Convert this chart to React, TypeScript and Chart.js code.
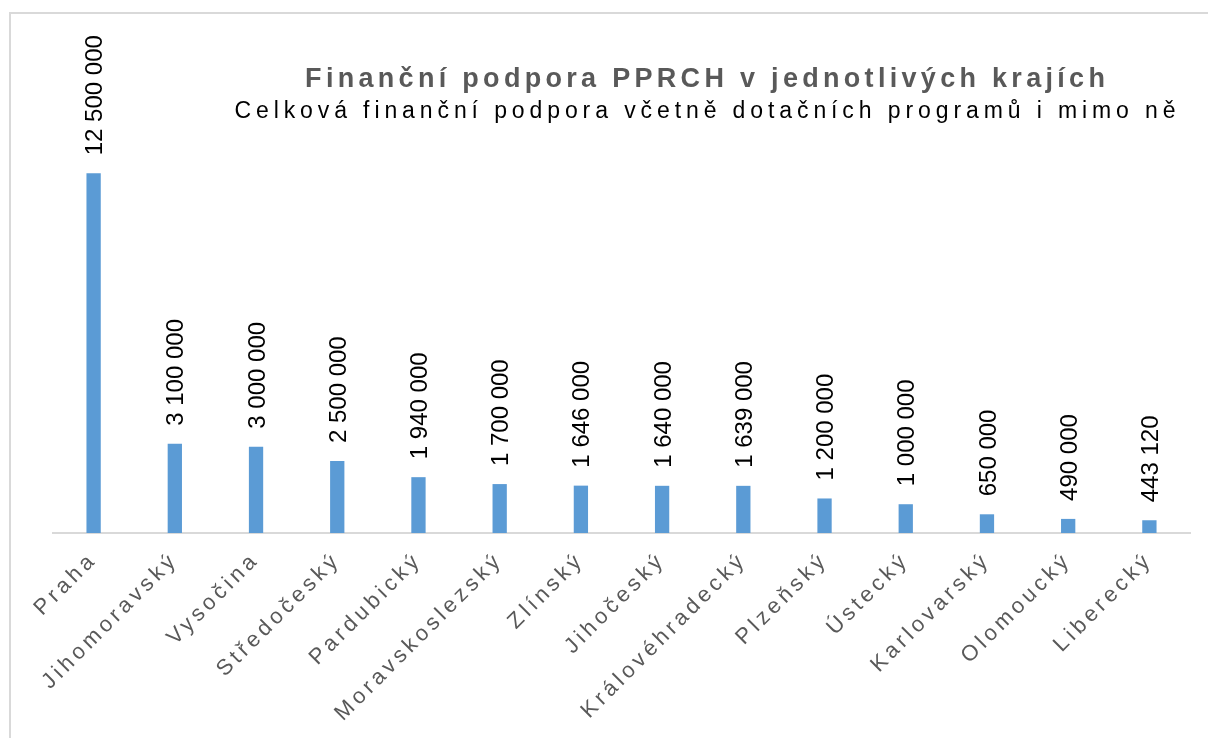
import React, { useEffect, useRef } from "react";
import { Chart, registerables } from "chart.js";

Chart.register(...registerables);

const regions = [
  "Praha",
  "Jihomoravský",
  "Vysočina",
  "Středočeský",
  "Pardubický",
  "Moravskoslezský",
  "Zlínský",
  "Jihočeský",
  "Královéhradecký",
  "Plzeňský",
  "Ústecký",
  "Karlovarský",
  "Olomoucký",
  "Liberecký",
];

const support = [
  12500000, 3100000, 3000000, 2500000, 1940000, 1700000, 1646000, 1640000,
  1639000, 1200000, 1000000, 650000, 490000, 443120,
];

const titleText = "Finanční podpora PPRCH v jednotlivých krajích";
const subtitleText = "Celková finanční podpora včetně dotačních programů i mimo ně";

const FONT = "'Liberation Sans', Arial, sans-serif";

const fmt = (v: number) =>
  String(v).replace(/\B(?=(\d{3})+(?!\d))/g, " ");

const decorPlugin = {
  id: "decor",
  beforeDraw(chart: any) {
    (chart.ctx as any).letterSpacing = "4px";
  },
  afterDatasetsDraw(chart: any) {
    const ctx = chart.ctx;
    const meta = chart.getDatasetMeta(0);
    ctx.save();
    (ctx as any).letterSpacing = "0px";
    ctx.font = `24px ${FONT}`;
    ctx.fillStyle = "#000000";
    ctx.textAlign = "left";
    ctx.textBaseline = "alphabetic";
    meta.data.forEach((bar: any, i: number) => {
      ctx.save();
      ctx.translate(bar.x, bar.y - 18);
      ctx.rotate(-Math.PI / 2);
      ctx.fillText(fmt(support[i]), 0, 8.6);
      ctx.restore();
    });
    ctx.restore();
  },
  afterDraw(chart: any) {
    const ctx = chart.ctx;
    ctx.save();
    ctx.textAlign = "center";
    ctx.textBaseline = "alphabetic";
    (ctx as any).letterSpacing = "4.3px";
    ctx.font = `bold 27px ${FONT}`;
    ctx.fillStyle = "#595959";
    ctx.fillText(titleText, 694 + 2.15, 73);
    (ctx as any).letterSpacing = "4.9px";
    ctx.font = `23px ${FONT}`;
    ctx.fillStyle = "#000000";
    ctx.fillText(subtitleText, 694 + 2.45, 104);
    ctx.restore();
    (ctx as any).letterSpacing = "0px";
  },
};

export default function App() {
  const ref = useRef<HTMLCanvasElement>(null);

  useEffect(() => {
    if (!ref.current) return;
    const chart = new Chart(ref.current, {
      type: "bar",
      data: {
        labels: regions,
        datasets: [
          {
            data: support,
            backgroundColor: "#5b9bd5",
            borderWidth: 0,
            categoryPercentage: 1,
            barPercentage: 0.176,
          },
        ],
      },
      options: {
        animation: false,
        responsive: false,
        maintainAspectRatio: false,
        devicePixelRatio: 1,
        layout: { padding: { left: 42, right: 21, top: 1, bottom: 0 } },
        plugins: {
          legend: { display: false },
          tooltip: { enabled: false },
          title: { display: false },
        },
        scales: {
          x: {
            grid: { display: false },
            border: { display: true, color: "#d9d9d9", width: 2 },
            ticks: {
              autoSkip: false,
              minRotation: 45,
              maxRotation: 45,
              padding: 6,
              color: "#595959",
              font: { family: FONT, size: 22 },
            },
            afterFit: (scale: any) => {
              scale.height = 211;
            },
          },
          y: {
            display: false,
            min: 0,
            max: 18000000,
          },
        },
      },
      plugins: [decorPlugin],
    });
    return () => chart.destroy();
  }, []);

  return (
    <div
      style={{
        position: "fixed",
        left: 9,
        top: 12,
        border: "2px solid #d9d9d9",
        background: "#ffffff",
      }}
    >
      <canvas
        ref={ref}
        width={1200}
        height={730}
        style={{ display: "block", width: 1200, height: 730 }}
      />
    </div>
  );
}
